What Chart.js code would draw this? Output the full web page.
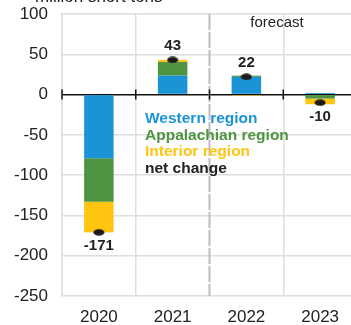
<!DOCTYPE html>
<html>
<head>
<meta charset="utf-8">
<script src="https://cdn.jsdelivr.net/npm/chart.js@4"></script>
<style>
  html, body { margin: 0; padding: 0; background: #fff; overflow: hidden; }
  .chart-container { position: relative; width: 364px; height: 325px; }
</style>
</head>
<body>
<div class="chart-container">
  <canvas id="myChart"></canvas>
</div>
<script>
const years = ["2020", "2021", "2022", "2023"];
const western = [-79, 23.5, 22, 2];
const appalachian = [-54, 17, 1.5, -5];
const interior = [-38, 2.5, -1.5, -7];
const netChange = [-171, 43, 22, -10];
const yTicks = [100, 50, 0, -50, -100, -150, -200, -250];

const BLUE = "#1a94d6";
const GREEN = "#4f9440";
const YELLOW = "#ffc510";
const DARK = "#222222";
const FONT = "Arial, 'Liberation Sans', sans-serif";

// small black ellipse used as the net-change marker
const dot = document.createElement("canvas");
dot.width = 12;
dot.height = 7;
const dctx = dot.getContext("2d");
dctx.fillStyle = "#1a1a1a";
dctx.beginPath();
dctx.ellipse(6, 3.5, 5.5, 3.3, 0, 0, Math.PI * 2);
dctx.fill();

const annotations = {
  id: "annotations",
  afterDraw(chart) {
    const { ctx, chartArea, scales } = chart;
    const x = scales.x;
    const y = scales.y;
    const catW = (x.right - x.left) / years.length;
    const zeroY = y.getPixelForValue(0);

    ctx.save();

    // dashed divider before the forecast years
    const divX = x.getPixelForValue(1) + catW / 2;
    ctx.strokeStyle = "#bcbcc6";
    ctx.lineWidth = 2;
    ctx.setLineDash([16, 2]);
    ctx.beginPath();
    ctx.moveTo(divX, chartArea.top);
    ctx.lineTo(divX, chartArea.bottom);
    ctx.stroke();
    ctx.setLineDash([]);

    // small ticks on the zero line
    ctx.strokeStyle = "#111";
    ctx.lineWidth = 1.5;
    for (let i = 0; i < years.length; i++) {
      const tx = x.getPixelForValue(i) - catW / 2;
      ctx.beginPath();
      ctx.moveTo(tx, zeroY - 5);
      ctx.lineTo(tx, zeroY + 5);
      ctx.stroke();
    }

    // unit label
    ctx.fillStyle = DARK;
    ctx.font = `17px ${FONT}`;
    ctx.textAlign = "left";
    ctx.textBaseline = "alphabetic";
    ctx.fillText("million short tons", 35, 2);

    ctx.font = `15px ${FONT}`;
    ctx.textAlign = "center";
    ctx.textBaseline = "middle";
    ctx.fillText("forecast", 277, 23);

    // legend
    const legend = [
      ["Western region", BLUE],
      ["Appalachian region", GREEN],
      ["Interior region", YELLOW],
      ["net change", DARK],
    ];
    ctx.font = `bold 15.5px ${FONT}`;
    ctx.textAlign = "left";
    legend.forEach(([text, color], i) => {
      ctx.fillStyle = color;
      ctx.fillText(text, 145, 119 + i * 16.5);
    });

    // net change value labels
    ctx.font = `bold 15px ${FONT}`;
    ctx.textAlign = "center";
    ctx.fillStyle = DARK;
    netChange.forEach((v, i) => {
      const px = x.getPixelForValue(i);
      const py = y.getPixelForValue(v);
      ctx.fillText(String(v), px, v >= 0 ? py - 14 : py + 14);
    });

    ctx.restore();
  },
};

const ctx = document.getElementById("myChart").getContext("2d");
new Chart(ctx, {
  type: "bar",
  data: {
    labels: years,
    datasets: [
      {
        type: "line",
        label: "net change",
        data: netChange,
        stack: "net",
        showLine: false,
        pointStyle: dot,
        pointRadius: 6,
        order: 0,
      },
      { label: "Western region", data: western, backgroundColor: BLUE, stack: "regions", order: 1 },
      { label: "Appalachian region", data: appalachian, backgroundColor: GREEN, stack: "regions", order: 1 },
      { label: "Interior region", data: interior, backgroundColor: YELLOW, stack: "regions", order: 1 },
    ],
  },
  options: {
    responsive: true,
    maintainAspectRatio: false,
    animation: false,
    layout: { padding: { top: 14, right: 2, left: 0, bottom: 0 } },
    datasets: { bar: { barPercentage: 0.5, categoryPercentage: 0.8 } },
    plugins: {
      legend: { display: false },
      tooltip: { enabled: false },
    },
    scales: {
      x: {
        stacked: true,
        afterFit: (scale) => {
          scale.height = 29;
          scale.paddingLeft = 0;
          scale.paddingRight = 0;
        },
        grid: {
          offset: true,
          drawTicks: false,
          lineWidth: 1.5,
          color: (c) => (c.index === 2 ? "rgba(0,0,0,0)" : "#dedede"),
        },
        border: { display: false },
        ticks: { padding: 11, color: DARK, font: { family: FONT, size: 17 } },
      },
      y: {
        stacked: true,
        min: -250,
        max: 100,
        afterFit: (scale) => {
          scale.width = 62;
          scale.paddingTop = 0;
          scale.paddingBottom = 0;
        },
        afterBuildTicks: (scale) => {
          scale.ticks = yTicks.map((v) => ({ value: v }));
        },
        grid: {
          drawTicks: false,
          lineWidth: 1.5,
          color: (c) => (c.tick && c.tick.value === 0 ? "#111" : "#dedede"),
          z: 0,
        },
        border: { color: "#dedede", width: 1.5 },
        ticks: { padding: 14, color: DARK, font: { family: FONT, size: 17 } },
      },
    },
  },
  plugins: [annotations],
});
</script>
</body>
</html>
